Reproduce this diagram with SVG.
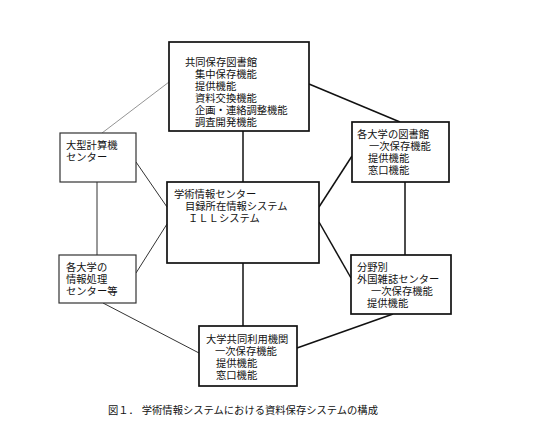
<svg xmlns="http://www.w3.org/2000/svg" width="536" height="434" viewBox="0 0 536 434">
<style>
text{font-family:"Liberation Sans","Noto Sans CJK JP",sans-serif;font-size:10.3px;fill:#111;}
.box{fill:#fff;stroke:#111;stroke-width:1.7;}
.boxl{fill:#fff;stroke:#333;stroke-width:1.2;}
.c{stroke:#111;stroke-width:1.5;fill:none;}
.cl{stroke:#333;stroke-width:1;fill:none;}
.cg{stroke:#888;stroke-width:0.9;fill:none;}
</style>
<rect width="536" height="434" fill="#fff"/>
<g id="connectors">
<line class="c" x1="243" y1="131" x2="243" y2="182"/>
<line class="c" x1="243" y1="263" x2="243" y2="326"/>
<line class="cg" x1="169" y1="82" x2="102" y2="133"/>
<line class="c" x1="309" y1="84" x2="400" y2="122"/>
<line class="cl" x1="136" y1="162" x2="167" y2="207"/>
<line class="cl" x1="97" y1="182" x2="97" y2="255"/>
<line class="cl" x1="136" y1="273" x2="167" y2="224"/>
<line class="cl" x1="103" y1="303" x2="199" y2="353"/>
<line class="c" x1="352" y1="156" x2="319" y2="207"/>
<line class="c" x1="405" y1="182" x2="405" y2="255"/>
<line class="c" x1="319" y1="222" x2="351" y2="278"/>
<line class="c" x1="393" y1="314" x2="297" y2="348"/>
</g>
<g id="kyodo">
<rect class="box" x="169" y="42" width="140" height="89"/>
<text x="185" y="66">共同保存図書館</text>
<text x="195" y="78">集中保存機能</text>
<text x="195" y="90">提供機能</text>
<text x="195" y="102">資料交換機能</text>
<text x="195" y="114">企画・連絡調整機能</text>
<text x="195" y="126">調査開発機能</text>
</g>
<g id="ogata">
<rect class="boxl" x="60" y="133" width="76" height="49"/>
<text x="66" y="149">大型計算機</text>
<text x="66" y="161">センター</text>
</g>
<g id="shori">
<rect class="boxl" x="59" y="255" width="77" height="48"/>
<text x="66" y="271">各大学の</text>
<text x="66" y="283">情報処理</text>
<text x="66" y="295">センター等</text>
</g>
<g id="gakujutsu">
<rect class="box" x="167" y="182" width="152" height="81"/>
<text x="174" y="198">学術情報センター</text>
<text x="185" y="210">目録所在情報システム</text>
<text x="188" y="222">ＩＬＬシステム</text>
</g>
<g id="toshokan">
<rect class="box" x="352" y="122" width="97" height="60"/>
<text x="357" y="138">各大学の図書館</text>
<text x="369" y="150">一次保存機能</text>
<text x="368" y="162">提供機能</text>
<text x="368" y="174">窓口機能</text>
</g>
<g id="bunya">
<rect class="box" x="351" y="255" width="100" height="59"/>
<text x="357" y="271">分野別</text>
<text x="357" y="283">外国雑誌センター</text>
<text x="371" y="295">一次保存機能</text>
<text x="367" y="307">提供機能</text>
</g>
<g id="kyodoriyo">
<rect class="box" x="199" y="326" width="98" height="60"/>
<text x="206" y="343">大学共同利用機関</text>
<text x="215" y="355">一次保存機能</text>
<text x="216" y="367">提供機能</text>
<text x="216" y="379">窓口機能</text>
</g>
<text x="108" y="414">図１． 学術情報システムにおける資料保存システムの構成</text>
</svg>
